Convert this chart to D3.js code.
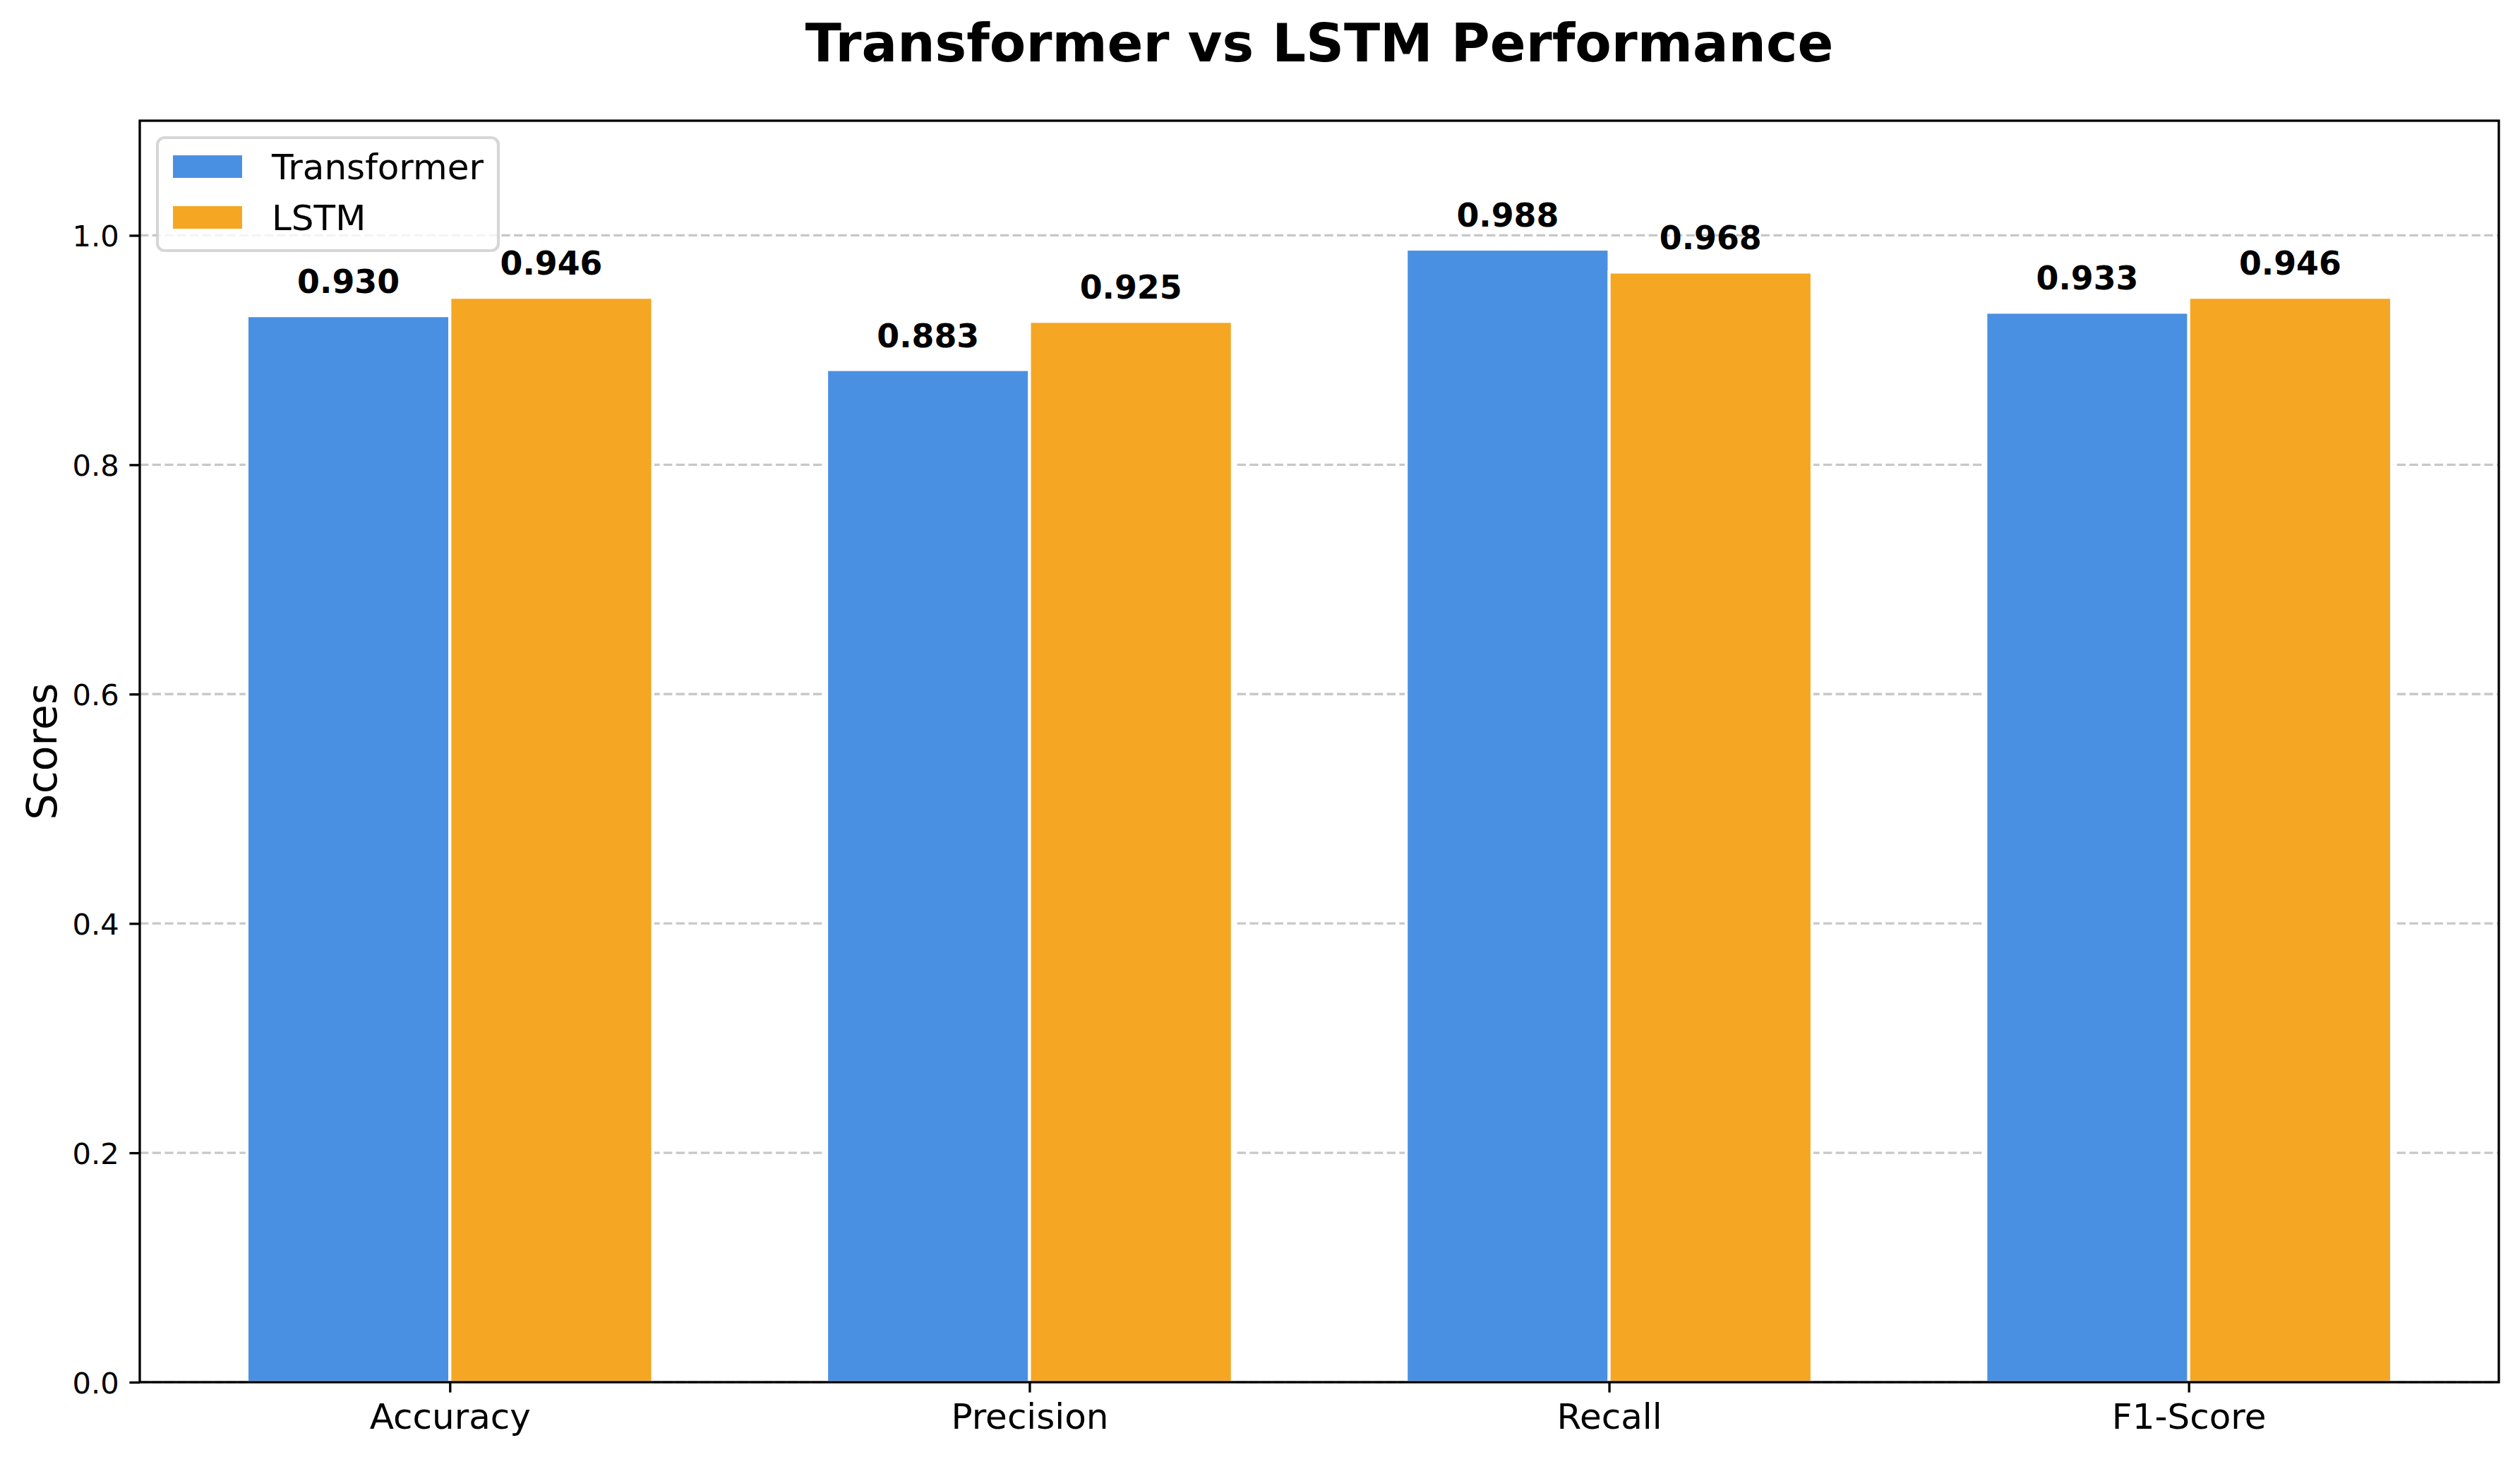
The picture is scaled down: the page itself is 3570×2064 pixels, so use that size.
<!DOCTYPE html>
<html>
<head>
<meta charset="utf-8">
<script src="https://cdn.jsdelivr.net/npm/d3@7"></script>
<style>
  html, body { margin: 0; padding: 0; background: #ffffff; }
  svg { display: block; }
  text { font-family: "DejaVu Sans", sans-serif; }
</style>
</head>
<body>
<script>
// ---- data ----
const categories = ["Accuracy", "Precision", "Recall", "F1-Score"];
const seriesNames = ["Transformer", "LSTM"];
const transformerScores = [0.930, 0.883, 0.988, 0.933];
const lstmScores = [0.946, 0.925, 0.968, 0.946];
const yTicks = [0.0, 0.2, 0.4, 0.6, 0.8, 1.0];
const seriesColors = ["#4A90E2", "#F5A623"];
const titleText = "Transformer vs LSTM Performance";
const yLabelText = "Scores";

(function () {
// ---- layout ----
const W = 3570, H = 2064;
const mLeft = 198, mRight = 3540, mTop = 171, mBottom = 1958;
const barWidth = 0.35;
const pt = 300 / 72;

const svg = d3.select("body").append("svg")
  .attr("width", W).attr("height", H)
  .attr("viewBox", `0 0 ${W} ${H}`);

svg.append("rect").attr("width", W).attr("height", H).attr("fill", "#ffffff");

const x = d3.scaleLinear()
  .domain([-barWidth - 0.185, categories.length - 1 + barWidth + 0.185])
  .range([mLeft, mRight]);
const y = d3.scaleLinear().domain([0, 1.1]).range([mBottom, mTop]);

// grid
svg.append("g").selectAll("line").data(yTicks).join("line")
  .attr("x1", mLeft).attr("x2", mRight)
  .attr("y1", d => y(d)).attr("y2", d => y(d))
  .attr("stroke", "#b0b0b0").attr("stroke-opacity", 0.7)
  .attr("stroke-width", 0.8 * pt)
  .attr("stroke-dasharray", `${3.7 * 0.8 * pt} ${1.6 * 0.8 * pt}`);

// bars
const seriesData = [transformerScores, lstmScores];
const offsets = [-barWidth / 2, barWidth / 2];
seriesData.forEach((vals, si) => {
  const g = svg.append("g");
  g.selectAll("rect").data(vals).join("rect")
    .attr("x", (d, i) => x(i + offsets[si] - barWidth / 2))
    .attr("width", x(barWidth) - x(0))
    .attr("y", d => y(d))
    .attr("height", d => y(0) - y(d))
    .attr("fill", seriesColors[si])
    .attr("stroke", "#ffffff")
    .attr("stroke-width", 1 * pt);
  g.selectAll("text").data(vals).join("text")
    .attr("x", (d, i) => x(i + offsets[si]))
    .attr("y", d => y(d) - 32)
    .attr("text-anchor", "middle")
    .attr("font-size", 11 * pt)
    .attr("font-weight", "bold")
    .attr("fill", "#000")
    .text(d => d.toFixed(3));
});

// y axis
const yAxis = d3.axisLeft(y).tickValues(yTicks).tickFormat(d3.format(".1f"))
  .tickSize(3.5 * pt).tickPadding(3.5 * pt);
const gy = svg.append("g").attr("transform", `translate(${mLeft},0)`).call(yAxis);
gy.select(".domain").remove();
gy.selectAll(".tick line").attr("stroke", "#000").attr("stroke-width", 0.8 * pt);
gy.selectAll(".tick text").attr("font-size", 10 * pt).attr("fill", "#000")
  .attr("font-family", "DejaVu Sans").attr("dy", "0.36em");

// x axis
const xAxis = d3.axisBottom(x).tickValues(d3.range(categories.length))
  .tickFormat(i => categories[i]).tickSize(3.5 * pt).tickPadding(3.5 * pt);
const gx = svg.append("g").attr("transform", `translate(0,${mBottom})`).call(xAxis);
gx.select(".domain").remove();
gx.selectAll(".tick line").attr("stroke", "#000").attr("stroke-width", 0.8 * pt);
gx.selectAll(".tick text").attr("font-size", 12 * pt).attr("fill", "#000")
  .attr("font-family", "DejaVu Sans").attr("dy", "0.73em");

// spines
svg.append("rect")
  .attr("x", mLeft).attr("y", mTop)
  .attr("width", mRight - mLeft).attr("height", mBottom - mTop)
  .attr("fill", "none").attr("stroke", "#000").attr("stroke-width", 0.8 * pt)
  .attr("stroke-linejoin", "miter");

// title
svg.append("text")
  .attr("x", (mLeft + mRight) / 2).attr("y", 87)
  .attr("text-anchor", "middle")
  .attr("font-size", 18 * pt).attr("font-weight", "bold")
  .attr("fill", "#000").text(titleText);

// y label
svg.append("text")
  .attr("transform", `translate(80,${(mTop + mBottom) / 2}) rotate(-90)`)
  .attr("text-anchor", "middle")
  .attr("font-size", 14 * pt).attr("fill", "#000").text(yLabelText);

// legend
const lg = svg.append("g");
const legX = 223, legY = 195, legW = 483, legH = 160;
lg.append("rect")
  .attr("x", legX).attr("y", legY).attr("width", legW).attr("height", legH)
  .attr("rx", 10).attr("ry", 10)
  .attr("fill", "#ffffff").attr("fill-opacity", 0.8)
  .attr("stroke", "#cccccc").attr("stroke-opacity", 0.8)
  .attr("stroke-width", 1 * pt);
const rowCenters = [236, 308];
seriesNames.forEach((name, i) => {
  lg.append("rect")
    .attr("x", 245).attr("y", rowCenters[i] - 16)
    .attr("width", 98).attr("height", 32)
    .attr("fill", seriesColors[i]);
  lg.append("text")
    .attr("x", 385).attr("y", rowCenters[i] + 18)
    .attr("font-size", 12 * pt).attr("fill", "#000").text(name);
});
})();
</script>
</body>
</html>
